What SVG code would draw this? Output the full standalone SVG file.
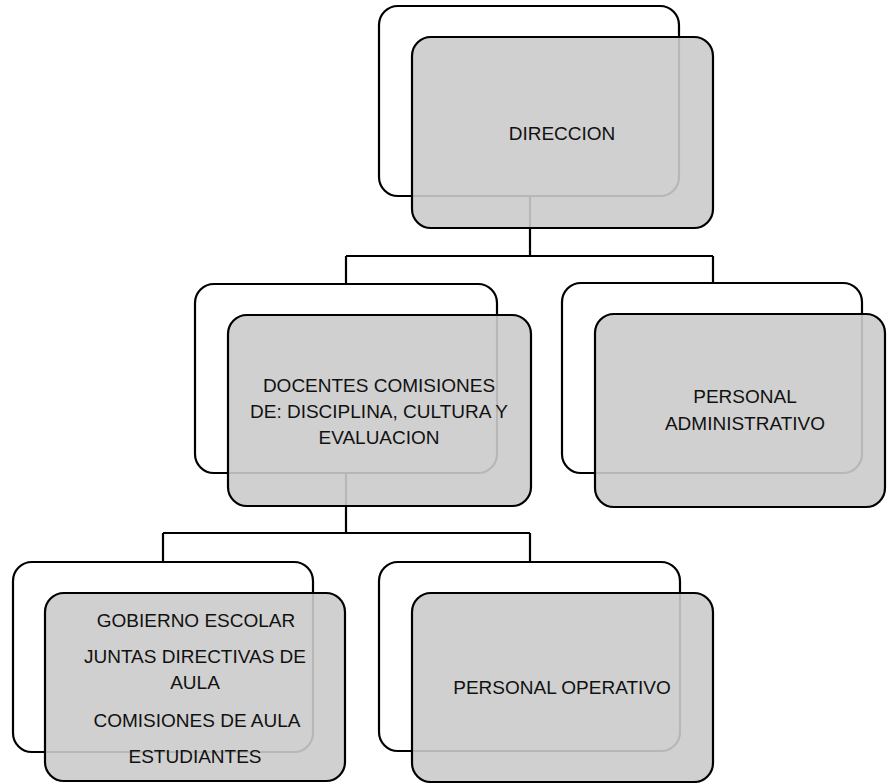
<svg xmlns="http://www.w3.org/2000/svg" width="887" height="783" viewBox="0 0 887 783">
<style>
.bg{fill:#ffffff}
.back{fill:#ffffff;stroke:#000;stroke-width:2.2}
.front{fill:#cbcbcb;fill-opacity:0.9;stroke:#000;stroke-width:2.2}
.conn{fill:none;stroke:#000;stroke-width:2.2}
text{font-family:"Liberation Sans",Arial,sans-serif;font-size:19px;fill:#111;text-anchor:middle}
</style>
<rect class="bg" x="0" y="0" width="887" height="783"/>
<g id="connectors">
<path class="conn" d="M530 196 V256 M346 256 H713 M346 256 V284 M713 256 V283"/>
<path class="conn" d="M346 473 V533 M163 533 H530 M163 533 V562 M530 533 V562"/>
</g>
<g id="node-direccion">
<rect class="back" x="379" y="6" width="300" height="190" rx="19"/>
<rect class="front" x="412" y="37" width="301" height="191" rx="19"/>
<text x="562" y="140">DIRECCION</text>
</g>
<g id="node-docentes">
<rect class="back" x="195" y="284" width="302" height="189" rx="19"/>
<rect class="front" x="228" y="315" width="303" height="191" rx="19"/>
<text x="379" y="392">DOCENTES COMISIONES</text>
<text x="379" y="418">DE: DISCIPLINA, CULTURA Y</text>
<text x="379" y="444">EVALUACION</text>
</g>
<g id="node-administrativo">
<rect class="back" x="562" y="283" width="300" height="190" rx="19"/>
<rect class="front" x="595" y="314" width="290" height="193" rx="19"/>
<text x="745" y="403">PERSONAL</text>
<text x="745" y="430">ADMINISTRATIVO</text>
</g>
<g id="node-gobierno">
<rect class="back" x="13" y="562" width="300" height="190" rx="19"/>
<rect class="front" x="45" y="593" width="300" height="188" rx="19"/>
<text x="196" y="627">GOBIERNO ESCOLAR</text>
<text x="195" y="663">JUNTAS DIRECTIVAS DE</text>
<text x="195" y="689">AULA</text>
<text x="197" y="727">COMISIONES DE AULA</text>
<text x="195" y="763">ESTUDIANTES</text>
</g>
<g id="node-operativo">
<rect class="back" x="379" y="562" width="301" height="189" rx="19"/>
<rect class="front" x="412" y="593" width="301" height="189" rx="19"/>
<text x="562" y="694">PERSONAL OPERATIVO</text>
</g>
</svg>
